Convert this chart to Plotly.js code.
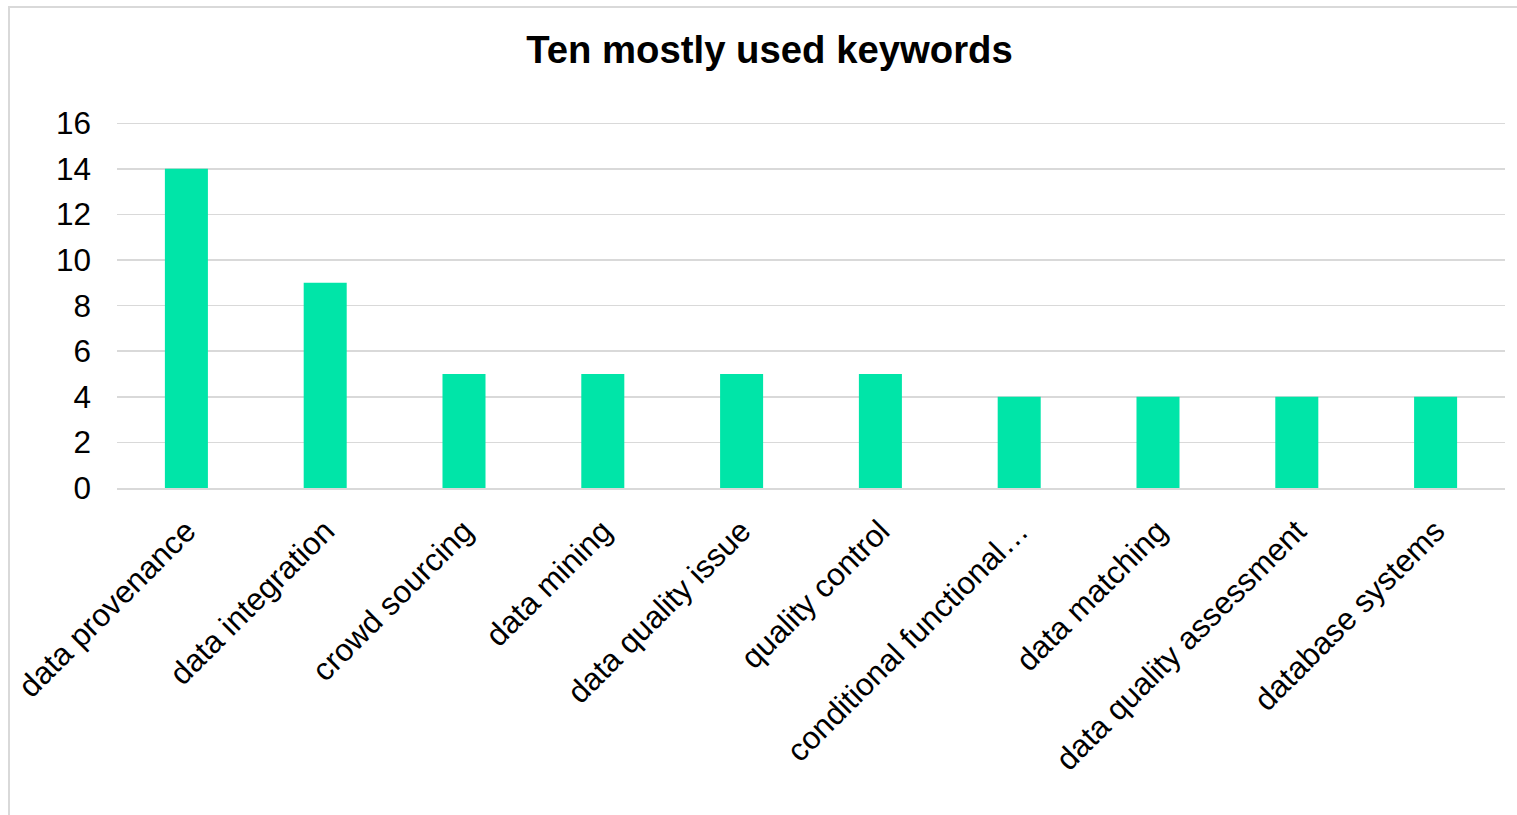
<!DOCTYPE html>
<html>
<head>
<meta charset="utf-8">
<script src="https://cdn.plot.ly/plotly-3.0.1.min.js"></script>
<style>
html, body { margin: 0; padding: 0; background: #fff; overflow: hidden; }
#frame { position: absolute; left: 8px; top: 6px; width: 1530px; height: 830px; border: 2px solid #d9d9d9; box-sizing: border-box; }
#chart { position: absolute; left: 0; top: 0; width: 1517px; height: 815px; }
</style>
</head>
<body>
<div id="frame"></div>
<div id="chart"></div>
<script>
const keywords = ["data provenance", "data integration", "crowd sourcing", "data mining",
  "data quality issue", "quality control", "conditional functional…", "data matching",
  "data quality assessment", "database systems"];
const counts = [14, 9, 5, 5, 5, 5, 4, 4, 4, 4];
const yTicks = [0, 2, 4, 6, 8, 10, 12, 14, 16];

const trace = {
  type: "bar",
  x: keywords,
  y: counts,
  marker: { color: "#00E5A8" },
  hoverinfo: "x+y"
};

const layout = {
  width: 1517,
  height: 815,
  paper_bgcolor: "rgba(0,0,0,0)",
  plot_bgcolor: "rgba(0,0,0,0)",
  margin: { l: 117, r: 12, t: 121, b: 327 },
  bargap: 0.69,
  showlegend: false,
  font: { family: "Liberation Sans, Arial, sans-serif", color: "#000" },
  title: {
    text: "<b>Ten mostly used keywords</b>",
    font: { size: 38.3, color: "#000", family: "Liberation Sans, Arial, sans-serif" },
    x: 769.5 / 1517,
    xref: "container",
    xanchor: "center",
    y: 1 - 50 / 815,
    yref: "container",
    yanchor: "middle"
  },
  xaxis: {
    type: "category",
    tickangle: -45,
    tickfont: { size: 31.5, color: "#000" },
    ticklabelstandoff: 10,
    showgrid: false,
    showline: true,
    linecolor: "#d9d9d9",
    linewidth: 2,
    ticks: "",
    automargin: false
  },
  yaxis: {
    range: [0, 16.1],
    tickvals: yTicks,
    tickfont: { size: 31.5, color: "#000" },
    ticklabelstandoff: 25,
    showgrid: true,
    gridcolor: "#d9d9d9",
    gridwidth: 1.5,
    zeroline: false,
    showline: false,
    ticks: "",
    automargin: false
  }
};

Plotly.newPlot("chart", [trace], layout, { displayModeBar: false, staticPlot: true });
</script>
</body>
</html>
